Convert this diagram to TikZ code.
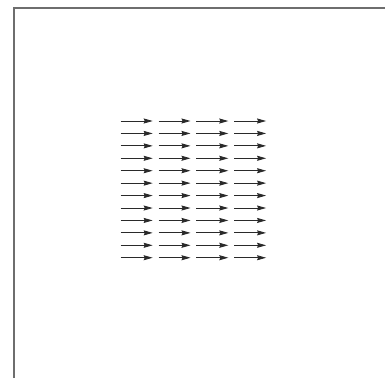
\documentclass[tikz,border=0pt]{standalone}
\usetikzlibrary{arrows.meta}
\definecolor{framegray}{HTML}{6E6E6E}
\definecolor{arrowgray}{HTML}{2A2A2A}
\tikzset{
  frameline/.style={draw=framegray, line width=1.3pt},
  vecarrow/.style={draw=arrowgray, line width=0.9pt, -{Stealth[length=9pt,width=5pt,inset=1pt]}}
}
\begin{document}
\begin{tikzpicture}[x=1pt,y=-1pt]
\useasboundingbox (0,0) rectangle (385,378);
\coordinate (fb) at (14,378);
\coordinate (fc) at (14,8);
\coordinate (fr) at (385,8);
\draw[frameline] (fb) -- (fc) -- (fr);
\foreach \i in {0,...,11}{
  \foreach \j in {0,...,3}{
    \coordinate (s\i-\j) at ({120.7+37.8*\j},{121+12.43*\i});
    \coordinate (e\i-\j) at ({152.7+37.8*\j},{121+12.43*\i});
    \draw[vecarrow] (s\i-\j) -- (e\i-\j);
  }
}
\end{tikzpicture}
\end{document}
